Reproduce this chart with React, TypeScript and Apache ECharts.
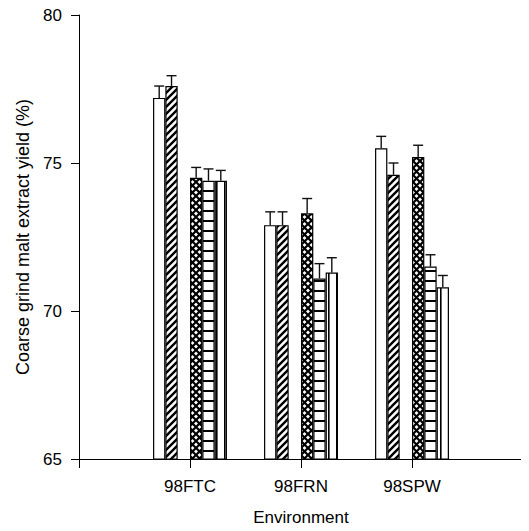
import React, { useEffect, useRef } from "react";
import * as echarts from "echarts";

const categories = ["", "98FTC", "98FRN", "98SPW", ""];
const seriesNames = ["Open", "Diagonal", "Empty", "Cross", "Horizontal", "Vertical"];
const openVals = ["-", 77.2, 72.9, 75.5, "-"];
const diagVals = ["-", 77.6, 72.9, 74.6, "-"];
const emptyVals = ["-", "-", "-", "-", "-"];
const crossVals = ["-", 74.5, 73.3, 75.2, "-"];
const horizVals = ["-", 74.4, 71.1, 71.5, "-"];
const vertVals = ["-", 74.4, 71.3, 70.8, "-"];
const openErr = [0, 0.4, 0.45, 0.4, 0];
const diagErr = [0, 0.35, 0.45, 0.4, 0];
const emptyErr = [0, 0, 0, 0, 0];
const crossErr = [0, 0.35, 0.5, 0.4, 0];
const horizErr = [0, 0.4, 0.5, 0.4, 0];
const vertErr = [0, 0.35, 0.5, 0.4, 0];
const yTicks = [65, 70, 75, 80];

const FONT = "'Liberation Sans', Arial, sans-serif";
const CAT_GAP = 0.334;

function makeTile(w: number, h: number, draw: (c: CanvasRenderingContext2D) => void) {
  const cv = document.createElement("canvas");
  cv.width = w;
  cv.height = h;
  const c = cv.getContext("2d")!;
  c.fillStyle = "#fff";
  c.fillRect(0, 0, w, h);
  c.strokeStyle = "#000";
  c.fillStyle = "#000";
  draw(c);
  return { image: cv, repeat: "repeat" } as any;
}

export default function App() {
  const ref = useRef<HTMLDivElement>(null);
  useEffect(() => {
    if (!ref.current) return;
    const chart = echarts.init(ref.current, undefined, { renderer: "svg" });

    const diag = makeTile(7, 7, (c) => {
      c.lineWidth = 2.4;
      c.beginPath();
      c.moveTo(-1, 8);
      c.lineTo(8, -1);
      c.moveTo(-4, 4);
      c.lineTo(4, -4);
      c.moveTo(3, 11);
      c.lineTo(11, 3);
      c.stroke();
    });
    const cross = makeTile(7, 7, (c) => {
      c.lineWidth = 2.2;
      c.beginPath();
      c.moveTo(-1, -1);
      c.lineTo(8, 8);
      c.moveTo(8, -1);
      c.lineTo(-1, 8);
      c.stroke();
    });
    const horiz = makeTile(12, 10, (c) => {
      c.fillRect(0, 0, 12, 2);
    });
    const vert = makeTile(8, 12, (c) => {
      c.fillRect(0, 0, 1.6, 12);
    });

    const fills: any[] = ["#ffffff", diag, "#ffffff", cross, horiz, vert];
    const vals = [openVals, diagVals, emptyVals, crossVals, horizVals, vertVals];
    const errs = [openErr, diagErr, emptyErr, crossErr, horizErr, vertErr];

    const barSeries = vals.map((d, k) => ({
      name: seriesNames[k],
      type: "bar",
      data: d,
      barGap: "0%",
      barCategoryGap: (CAT_GAP * 100).toFixed(1) + "%",
      itemStyle: { color: fills[k], borderColor: "#000", borderWidth: 1.2 },
      emphasis: { disabled: true },
      silent: true,
    }));

    const errData: any[] = [];
    vals.forEach((d, k) => {
      d.forEach((v, i) => {
        if (typeof v === "number") errData.push([i, v, errs[k][i], k]);
      });
    });

    const option: any = {
      animation: false,
      grid: { left: 79, right: 6, top: 15, bottom: 72, containLabel: false },
      xAxis: {
        type: "category",
        data: categories,
        boundaryGap: false,
        name: "Environment",
        nameLocation: "middle",
        nameGap: 50,
        nameTextStyle: { fontFamily: FONT, fontSize: 17, color: "#000" },
        axisLine: { show: true, lineStyle: { color: "#000", width: 1 } },
        axisTick: { show: true, length: 9, interval: 0, lineStyle: { color: "#000" } },
        axisLabel: { interval: 0, margin: 19, fontFamily: FONT, fontSize: 17, color: "#000" },
        splitLine: { show: false },
      },
      yAxis: {
        type: "value",
        min: yTicks[0],
        max: yTicks[yTicks.length - 1],
        interval: 5,
        name: "Coarse grind malt extract yield (%)",
        nameLocation: "middle",
        nameGap: 47,
        nameTextStyle: { fontFamily: FONT, fontSize: 18, color: "#000" },
        axisLine: { show: true, lineStyle: { color: "#000", width: 1 } },
        axisTick: { show: true, length: 8, lineStyle: { color: "#000" } },
        axisLabel: { margin: 17, fontFamily: FONT, fontSize: 17, color: "#000" },
        splitLine: { show: false },
      },
      series: [
        ...barSeries,
        {
          type: "custom",
          silent: true,
          z: 5,
          data: errData,
          renderItem: (params: any, api: any) => {
            const ci = api.value(0);
            const v = api.value(1);
            const e = api.value(2);
            const k = api.value(3);
            const bw = api.size([1, 0])[0];
            const total = bw * (1 - CAT_GAP);
            const slot = total / 6;
            const base = api.coord([ci, v]);
            const top = api.coord([ci, v + e]);
            const x = base[0] - total / 2 + (k + 0.5) * slot;
            const half = 5;
            const st = { stroke: "#111", lineWidth: 1.4 };
            return {
              type: "group",
              children: [
                { type: "line", shape: { x1: x, y1: base[1], x2: x, y2: top[1] }, style: st },
                { type: "line", shape: { x1: x - half, y1: top[1], x2: x + half, y2: top[1] }, style: st },
              ],
            };
          },
        },
      ],
    };
    chart.setOption(option);
    return () => chart.dispose();
  }, []);
  return <div ref={ref} style={{ width: 529, height: 531, margin: -8 }} />;
}
